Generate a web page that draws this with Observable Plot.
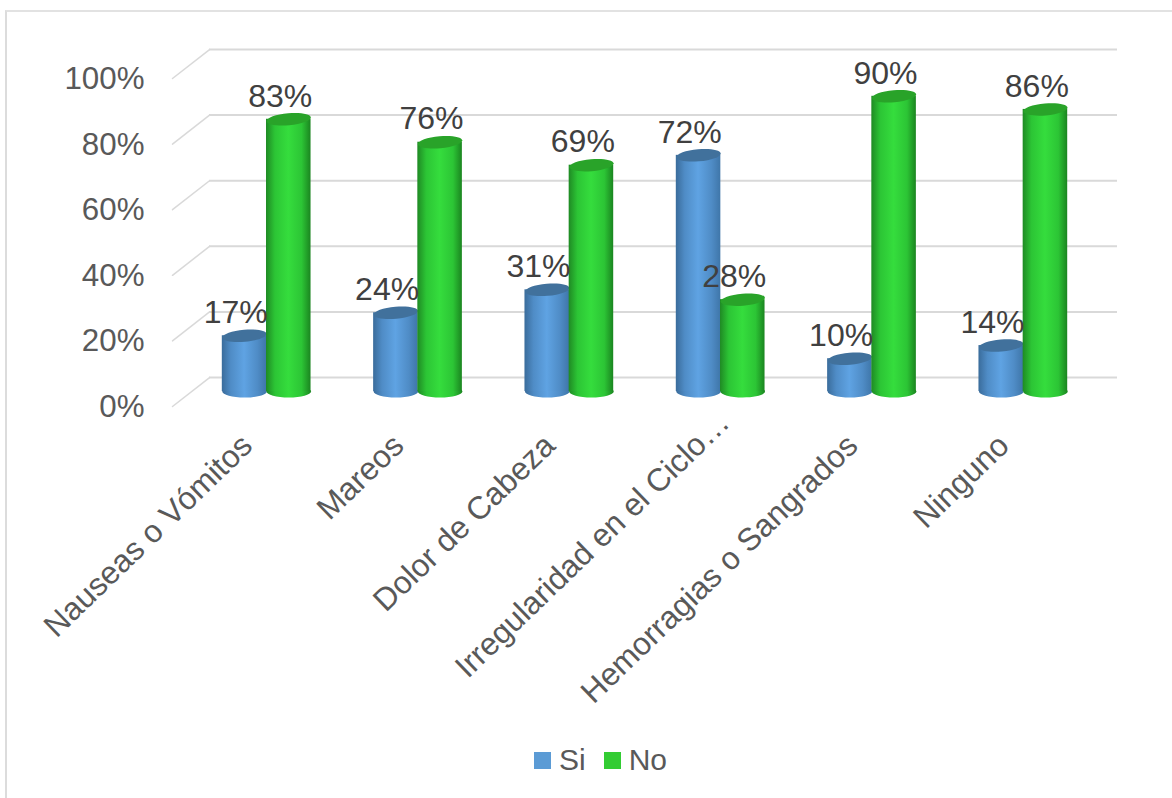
<!DOCTYPE html>
<html lang="es">
<head>
<meta charset="utf-8">
<script src="https://cdn.jsdelivr.net/npm/d3@7"></script>
<script src="https://cdn.jsdelivr.net/npm/@observablehq/plot@0.6"></script>
<style>
html,body{margin:0;padding:0;background:#fff;width:1172px;height:798px;overflow:hidden;font-family:"Liberation Sans",Arial,sans-serif;}
#frame{position:absolute;left:5px;top:10px;right:0;bottom:0;border-left:2px solid #dcdcdc;border-top:2px solid #e2e2e2;}
#chart{position:absolute;left:0;top:0;}
#legend{position:absolute;left:534px;top:742px;height:36px;display:flex;align-items:center;color:#595959;font-size:30px;line-height:36px;}
#legend i{display:inline-block;width:17px;height:17px;margin-right:8px;}
#legend span{margin-right:18px;}
</style>
</head>
<body>
<div id="frame"></div>
<div id="chart"></div>
<div id="legend"><i style="background:#5b9bd5"></i><span>Si</span><i style="background:#33cc33"></i><span>No</span></div>
<script>
const categories = ["Nauseas o Vómitos","Mareos","Dolor de Cabeza","Irregularidad en el Ciclo…","Hemorragias o Sangrados","Ninguno"];
const shiftedCategory = ["Irregularidad en el Ciclo…"];
const siValues = [17,24,31,72,10,14];
const noValues = [83,76,69,28,90,86];
const yTicks = [0,20,40,60,80,100];

const rowsSi = categories.map((cat,i)=>({cat,serie:"Si",value:siValues[i]}));
const rowsNo = categories.map((cat,i)=>({cat,serie:"No",value:noValues[i]}));

const depthX = 37, depthY = 29, barLift = -15, barInset = 53.4;
const ellipse = (rx,ry)=>({draw(c){
  const k=0.5523;
  c.moveTo(-rx,0);
  c.bezierCurveTo(-rx,-k*ry,-k*rx,-ry,0,-ry);
  c.bezierCurveTo(k*rx,-ry,rx,-k*ry,rx,0);
  c.bezierCurveTo(rx,k*ry,k*rx,ry,0,ry);
  c.bezierCurveTo(-k*rx,ry,-rx,k*ry,-rx,0);
  c.closePath();
}});
const cap = ellipse(22.2,6);
const base = ellipse(22.25,6);

function cylinder(rows,grad,top,dx){
  return [
    Plot.dot(rows,{x:"cat",y:0,r:10,symbol:base,fill:`url(#${grad})`,dx,dy:barLift}),
    Plot.barY(rows,{x:"cat",y1:0,y2:"value",insetLeft:barInset,insetRight:barInset,fill:`url(#${grad})`,dx,dy:barLift}),
    Plot.dot(rows,{x:"cat",y:"value",r:10,symbol:cap,rotate:-5,fill:top,dx,dy:barLift})
  ];
}
const xLabel = {anchor:"bottom",tickSize:0,tickRotate:-44,fontSize:31.7,fill:"#595959",label:null};

const chart = Plot.plot({
  width:1172,height:730,
  marginLeft:172,marginRight:92,marginTop:78,marginBottom:324,
  style:{fontFamily:"'Liberation Sans',Arial,sans-serif",background:"transparent",overflow:"visible"},
  x:{domain:categories,padding:0,round:false,axis:null},
  y:{domain:[0,100],axis:null},
  marks:[
    Plot.ruleY(yTicks,{insetLeft:depthX,insetRight:-depthX,dy:-depthY,stroke:"#d9d9d9",strokeWidth:2}),
    Plot.vector(yTicks,{y:d=>d,frameAnchor:"left",length:47,rotate:52,anchor:"start",
      shape:{draw(c,l){c.moveTo(0,0);c.lineTo(0,-l);}},stroke:"#d9d9d9",strokeWidth:1.5}),
    Plot.axisY(yTicks,{tickSize:0,tickPadding:28,dy:0.5,tickFormat:d=>d+"%",fontSize:31.3,fill:"#595959",label:null}),
    Plot.axisX(categories.filter(c=>!shiftedCategory.includes(c)),{...xLabel,tickPadding:34,dx:-1}),
    Plot.axisX(shiftedCategory,{...xLabel,tickPadding:11,dx:22}),
    ...cylinder(rowsSi,"gradSi","#41719c",-3.6),
    ...cylinder(rowsNo,"gradNo","#29a329",40.6),
    Plot.text(rowsSi,{x:"cat",y:"value",text:d=>d.value+"%",fontSize:32,fill:"#404040",dx:-12.4,dy:barLift-23}),
    Plot.text(rowsNo,{x:"cat",y:"value",text:d=>d.value+"%",fontSize:32,fill:"#404040",dx:32,dy:barLift-23})
  ]
});

const defs = d3.select(chart).append("defs");
function gradient(id,stops){
  const g = defs.append("linearGradient").attr("id",id).attr("x1",0).attr("x2",1).attr("y1",0).attr("y2",0);
  stops.forEach(([o,c])=>g.append("stop").attr("offset",o).attr("stop-color",c));
}
gradient("gradSi",[[0,"#3a6c9b"],[0.2,"#4f8cc6"],[0.5,"#5fa3e3"],[0.8,"#4f8cc6"],[1,"#3f76a9"]]);
gradient("gradNo",[[0,"#1f8a24"],[0.2,"#2cc535"],[0.5,"#35dd3d"],[0.8,"#2cc535"],[1,"#1b8520"]]);
document.getElementById("chart").append(chart);
</script>
</body>
</html>
